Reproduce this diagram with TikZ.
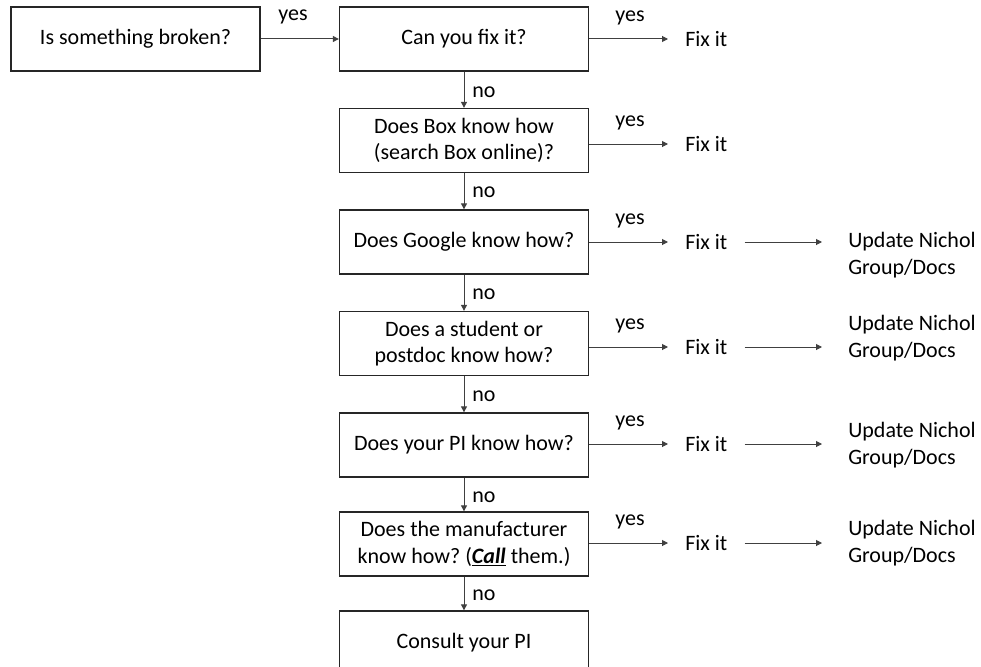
\documentclass[tikz,border=0pt]{standalone}
\usepackage{fontspec}
\setmainfont{Carlito}
\usetikzlibrary{arrows.meta}
\frenchspacing
\begin{document}
\begin{tikzpicture}[x=0.75pt,y=-0.75pt,
  font=\fontsize{16.5pt}{20pt}\selectfont,
  qbox/.style={draw=black!85,line width=1pt,fill=white,minimum width=186.75pt,minimum height=48pt,align=center,inner sep=2pt},
  conn/.style={draw=black!75,line width=0.75pt,-{Triangle[length=4.5pt,width=4.5pt]}},
  lbl/.style={inner sep=0pt},
  fixnode/.style={inner xsep=12.75pt,inner ysep=0pt},
  updnode/.style={inner xsep=19.5pt,inner ysep=0pt,align=left,anchor=west}]
\useasboundingbox (0,0) rectangle (981,667);
\clip (0,0) rectangle (981,667);
% boxes
\node[qbox] (b1) at (135.5,39) {Is something broken?};
\node[qbox] (b2) at (464,39) {Can you fix it?};
\node[qbox] (b3) at (464,140.5) {Does Box know how\\(search Box online)?};
\node[qbox] (b4) at (464,242) {Does Google know how?};
\node[qbox] (b5) at (464,343.5) {Does a student or\\postdoc know how?};
\node[qbox] (b6) at (464,445) {Does your PI know how?};
\node[qbox] (b7) at (464,544) {Does the manufacturer\\know how? (\underline{\textbf{\textit{Call}}} them.)};
\node[qbox] (b8) at (464,643) {Consult your PI};
% first yes
\draw[conn] (b1) -- (b2);
\node[lbl] (y1) at (293,17) {yes};
% no arrows
\draw[conn] (b2) -- (b3);
\draw[conn] (b3) -- (b4);
\draw[conn] (b4) -- (b5);
\draw[conn] (b5) -- (b6);
\draw[conn] (b6) -- (b7);
\draw[conn] (b7) -- (b8);
\node[lbl,anchor=west] (n2) at (472,92) {no};
\node[lbl,anchor=west] (n3) at (472,192) {no};
\node[lbl,anchor=west] (n4) at (472,294) {no};
\node[lbl,anchor=west] (n5) at (472,396) {no};
\node[lbl,anchor=west] (n6) at (472,497) {no};
\node[lbl,anchor=west] (n7) at (472,595) {no};
% fix it nodes
\node[fixnode,anchor=west] (f2) at (668,39) {Fix it};
\node[fixnode,anchor=west] (f3) at (668,144) {Fix it};
\node[fixnode,anchor=west] (f4) at (668,242) {Fix it};
\node[fixnode,anchor=west] (f5) at (668,347) {Fix it};
\node[fixnode,anchor=west] (f6) at (668,444) {Fix it};
\node[fixnode,anchor=west] (f7) at (668,543) {Fix it};
\draw[conn] (b2.east) -- (f2.west);
\draw[conn] (b3.east |- f3.west) -- (f3.west);
\draw[conn] (b4.east |- f4.west) -- (f4.west);
\draw[conn] (b5.east |- f5.west) -- (f5.west);
\draw[conn] (b6.east |- f6.west) -- (f6.west);
\draw[conn] (b7.east |- f7.west) -- (f7.west);
\node[lbl] (y2) at (630,18) {yes};
\node[lbl] (y3) at (630,123) {yes};
\node[lbl] (y4) at (630,221) {yes};
\node[lbl] (y5) at (630,326) {yes};
\node[lbl] (y6) at (630,423) {yes};
\node[lbl] (y7) at (630,522) {yes};
% update nodes
\node[updnode] (u4) at (822,255) {Update Nichol\\Group/Docs};
\node[updnode] (u5) at (822,338) {Update Nichol\\Group/Docs};
\node[updnode] (u6) at (822,445) {Update Nichol\\Group/Docs};
\node[updnode] (u7) at (822,543) {Update Nichol\\Group/Docs};
\draw[conn] (f4.east) -- (f4.east -| u4.west);
\draw[conn] (f5.east) -- (f5.east -| u5.west);
\draw[conn] (f6.east) -- (f6.east -| u6.west);
\draw[conn] (f7.east) -- (f7.east -| u7.west);
\end{tikzpicture}
\end{document}
